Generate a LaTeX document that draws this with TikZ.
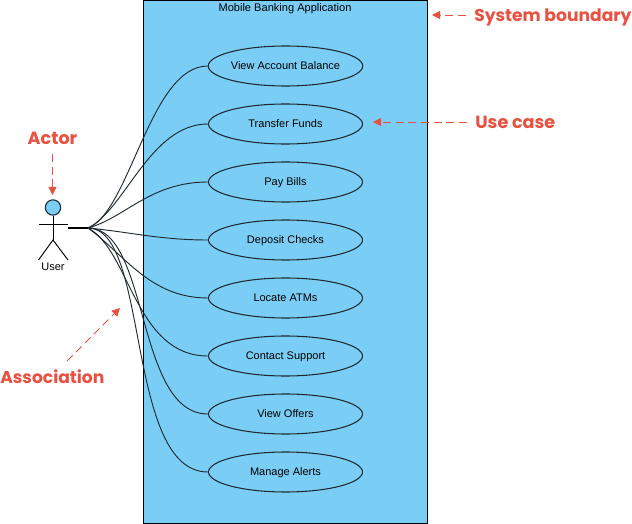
\documentclass[tikz,border=0pt]{standalone}
\usepackage{fontspec}
\setmainfont{Liberation Sans}
\newfontfamily\notefont{Poppins}
\usetikzlibrary{shapes.geometric,arrows.meta}
\definecolor{fillblue}{HTML}{7ACEF6}
\definecolor{notered}{HTML}{E8503F}
\definecolor{inkdark}{HTML}{1E2A30}
\tikzset{
  usecase/.style={draw=inkdark,line width=0.8pt,fill=fillblue,ellipse,minimum width=115.5pt,minimum height=30pt,inner sep=0pt,font=\fontsize{8.25}{10}\selectfont,text height=6pt,text depth=1pt},
  assoc/.style={draw=inkdark,line width=0.7pt},
  note/.style={text=notered,font=\notefont\bfseries\fontsize{13.2}{15}\selectfont,inner sep=0pt},
  notesmall/.style={note,font=\notefont\bfseries\fontsize{12.85}{15}\selectfont},
  notearrow/.style={draw=notered,line width=0.7pt,dash pattern=on 6pt off 3.5pt,-{Triangle[length=6pt,width=6pt]}},
  actorline/.style={draw=black,line width=0.7pt},
}
\begin{document}
\begin{tikzpicture}[x=0.75pt,y=-0.75pt]
\useasboundingbox (0,0) rectangle (632,524);
\node[draw=black,line width=0.8pt,fill=fillblue,minimum width=213pt,minimum height=392.5pt,inner sep=0pt,anchor=north west] (sys) at (143,0) {};
\node[font=\fontsize{8.3}{10}\selectfont,inner sep=0pt,text height=6pt,text depth=1pt] (title) at (285,8) {Mobile Banking Application};

\coordinate (hand) at (68,228);
\coordinate (hub) at (88,228);

\node[usecase] (u1) at (285.5,66) {View Account Balance};
\node[usecase] (u2) at (285.5,124) {Transfer Funds};
\node[usecase] (u3) at (285.5,182) {Pay Bills};
\node[usecase] (u4) at (285.5,240) {Deposit Checks};
\node[usecase] (u5) at (285.5,298) {Locate ATMs};
\node[usecase] (u6) at (285.5,356) {Contact Support};
\node[usecase] (u7) at (285.5,414) {View Offers};
\node[usecase] (u8) at (285.5,472) {Manage Alerts};

\draw[line width=1.5pt,black] (hand) -- (hub);
\draw[assoc] (hub) .. controls (130,212) and (150,66) .. (u1.west);
\draw[assoc] (hub) .. controls (125,210) and (150,124) .. (u2.west);
\draw[assoc] (hub) .. controls (125,218) and (150,182) .. (u3.west);
\draw[assoc] (hub) .. controls (130,232) and (160,240) .. (u4.west);
\draw[assoc] (hub) .. controls (125,255) and (150,298) .. (u5.west);
\draw[assoc] (hub) .. controls (130,250) and (135,356) .. (u6.west);
\draw[assoc] (hub) .. controls (150,228) and (135,414) .. (u7.west);
\draw[assoc] (hub) .. controls (150,228) and (125,472) .. (u8.west);

% actor
\node[circle,draw=inkdark,line width=0.8pt,fill=fillblue,minimum size=11.5pt,inner sep=0pt] (head) at (53,207.5) {};
\coordinate (crotch) at (53,240);
\coordinate (armL) at (38.5,224);
\coordinate (armR) at (68,224);
\coordinate (footL) at (38.5,260);
\coordinate (footR) at (68,260);
\draw[actorline] (head.south) -- (crotch);
\draw[actorline] (armL) -- (armR);
\draw[actorline] (footL) -- (crotch) -- (footR);
\node[font=\fontsize{8.25}{10}\selectfont,inner sep=0pt,text height=6pt,text depth=1pt] (user) at (53,267.5) {User};

% annotations
\node[note,anchor=center] (nactor) at (52.5,138.5) {Actor};
\coordinate (aactor0) at (52.5,154);
\coordinate (aactor1) at (52.5,195);
\draw[notearrow] (aactor0) -- (aactor1);

\node[notesmall,anchor=west] (nsys) at (474,17) {System boundary};
\coordinate (asys0) at (466,15);
\coordinate (asys1) at (432,15);
\draw[notearrow] (asys0) -- (asys1);

\node[note,anchor=west] (nuse) at (475,122.5) {Use case};
\coordinate (ause0) at (467,122);
\coordinate (ause1) at (373,122);
\draw[notearrow] (ause0) -- (ause1);

\node[notesmall,anchor=west] (nassoc) at (0,376.5) {Association};
\coordinate (aassoc0) at (67,361);
\coordinate (aassoc1) at (120,308);
\draw[notearrow] (aassoc0) -- (aassoc1);
\end{tikzpicture}
\end{document}
